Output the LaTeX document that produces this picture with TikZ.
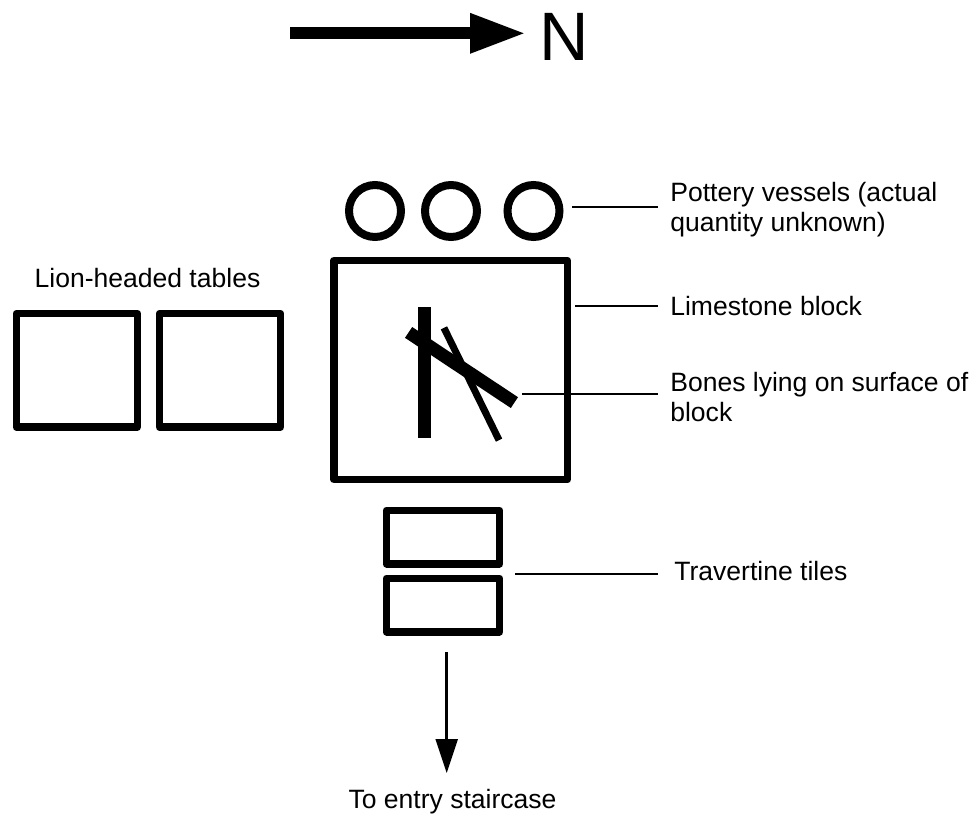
\documentclass[tikz,border=0pt]{standalone}
\usepackage{fontspec}
\setmainfont{Liberation Sans}
\usetikzlibrary{arrows.meta}
\tikzset{
  slab/.style={draw, line width=.15cm, line join=round, inner sep=0pt},
  vessel/.style={circle, draw, line width=.16cm, minimum size=1.04cm, inner sep=0pt},
  lead/.style={line width=.04cm},
  caption/.style={font=\fontsize{15.1}{17.3}\selectfont, align=left, anchor=west, inner sep=0pt},
  bone/.style={line width=.26cm, line cap=rect},
}
\begin{document}
\begin{tikzpicture}[x=.02cm, y=.02cm]
\useasboundingbox (0,0) rectangle (971,-816);
\coordinate (arrowtail) at (290,-33.3);
\node[inner sep=0pt, anchor=base, font=\fontsize{39}{39}\selectfont] (north) at (564.5,-60){N};
\coordinate (arrowhead) at (526,-33.3);
\draw[line width=.24cm, -{Triangle[length=1.12cm, width=.74cm]}](arrowtail) -- (arrowhead);
\node[vessel] (vessel0) at (375,-211){};
\node[vessel] (vessel1) at (451,-211){};
\node[vessel] (vessel2) at (533.5,-211){};
\node[slab, minimum width=4.67cm, minimum height=4.38cm] (block) at (450.7,-370){};
\node[slab, minimum width=2.42cm, minimum height=2.27cm] (table0) at (76.8,-370.3){};
\node[slab, minimum width=2.42cm, minimum height=2.27cm] (table1) at (220,-370.3){};
\node[slab, minimum width=2.27cm, minimum height=1.07cm] (tile0) at (443,-537){};
\node[slab, minimum width=2.27cm, minimum height=1.07cm] (tile1) at (443,-605){};
\coordinate (bone0a) at (424,-313.5);
\coordinate (bone0b) at (424,-431.5);
\coordinate (bone1a) at (414,-336);
\coordinate (bone1b) at (509,-399);
\coordinate (bone2a) at (445.5,-331);
\coordinate (bone2b) at (497.5,-437);
\draw[bone](bone0a) -- (bone0b);
\draw[bone](bone1a) -- (bone1b);
\draw[bone, line width=.14cm](bone2a) -- (bone2b);
\node[caption] (vesselcap) at (670,-209.5){Pottery vessels (actual\\quantity unknown)};
\node[caption] (blockcap) at (670,-306){Limestone block};
\node[caption] (bonecap) at (670,-397){Bones lying on surface of\\block};
\node[caption] (tilecap) at (674,-571){Travertine tiles};
\node[caption, anchor=center] (tablecap) at (147.5,-278){Lion-headed tables};
\node[caption, anchor=center] (stairs) at (452.5,-802){To entry staircase};
\coordinate (vesselend) at (572,-207.3);
\coordinate (vesselstop) at (658,-207.3);
\coordinate (blockend) at (575,-306);
\coordinate (blockstop) at (658,-306);
\coordinate (boneend) at (522,-394);
\coordinate (bonestop) at (658,-394);
\coordinate (tileend) at (515,-573.5);
\coordinate (tilestop) at (658,-573.5);
\draw[lead](vesselend) -- (vesselstop);
\draw[lead](blockend) -- (blockstop);
\draw[lead](boneend) -- (bonestop);
\draw[lead](tileend) -- (tilestop);
\coordinate (exitstart) at (446.7,-652);
\coordinate (exitend) at (446.7,-773);
\draw[line width=.05cm, -{Triangle[length=.68cm, width=.44cm]}](exitstart) -- (exitend);
\end{tikzpicture}
\end{document}
